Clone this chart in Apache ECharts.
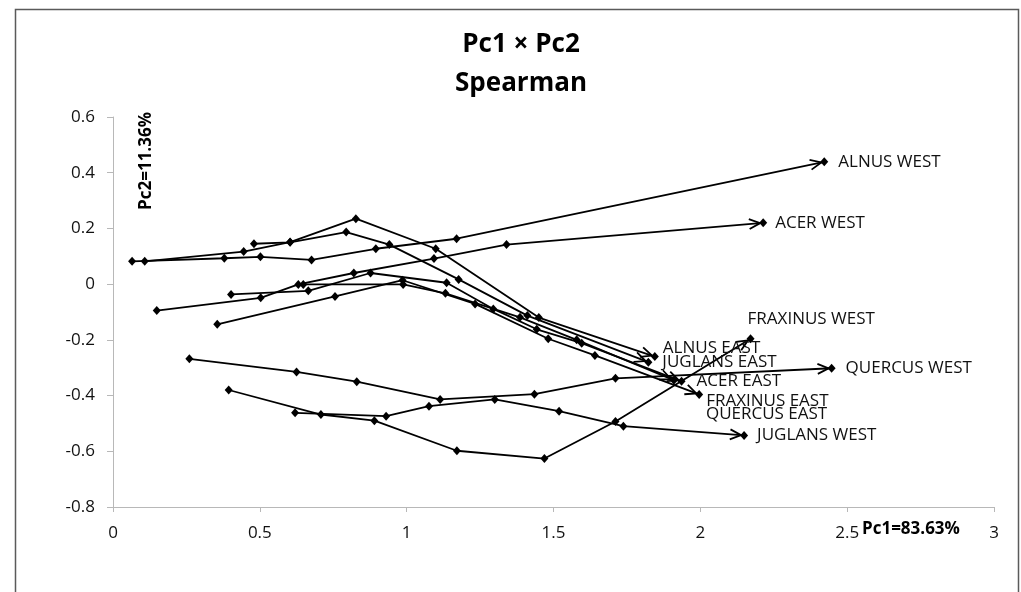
<!DOCTYPE html>
<html>
<head>
<meta charset="utf-8">
<script src="https://cdn.jsdelivr.net/npm/echarts@6/dist/echarts.min.js"></script>
<style>
  html, body { margin: 0; padding: 0; background: #fff; }
  #chart { width: 1021px; height: 592px; }
</style>
</head>
<body>
<div id="chart"></div>
<script>
// Trajectories in the Pc1 × Pc2 plane (Spearman), one per taxon and site.
const alnusWest    = [[0.065, 0.082], [0.379, 0.093], [0.502, 0.098], [0.676, 0.087], [0.895, 0.127], [1.17, 0.163], [2.422, 0.439]];
const acerWest     = [[0.149, -0.095], [0.503, -0.049], [0.631, -0.001], [0.82, 0.04], [1.093, 0.092], [1.34, 0.142], [2.214, 0.22]];
const fraxinusWest = [[0.394, -0.38], [0.708, -0.468], [0.89, -0.49], [1.171, -0.598], [1.469, -0.626], [1.711, -0.493], [2.171, -0.196]];
const quercusWest  = [[0.26, -0.268], [0.625, -0.315], [0.83, -0.35], [1.114, -0.414], [1.435, -0.395], [1.711, -0.338], [2.447, -0.302]];
const juglansWest  = [[0.62, -0.462], [0.93, -0.474], [1.076, -0.438], [1.3, -0.414], [1.519, -0.456], [1.738, -0.51], [2.149, -0.543]];
const alnusEast    = [[0.108, 0.082], [0.445, 0.117], [0.603, 0.151], [0.827, 0.235], [1.099, 0.127], [1.45, -0.12], [1.845, -0.26]];
const juglansEast  = [[0.48, 0.145], [0.603, 0.15], [0.794, 0.187], [0.941, 0.142], [1.177, 0.017], [1.411, -0.113], [1.823, -0.28]];
const acerEast     = [[0.402, -0.037], [0.665, -0.024], [0.877, 0.04], [1.136, 0.005], [1.295, -0.089], [1.443, -0.162], [1.596, -0.212], [1.936, -0.349]];
const fraxinusEast = [[0.355, -0.144], [0.756, -0.044], [0.986, 0.014], [1.233, -0.071], [1.482, -0.196], [1.641, -0.256], [1.996, -0.396]];
const quercusEast  = [[0.648, -0.001], [0.988, -0.001], [1.132, -0.033], [1.386, -0.119], [1.579, -0.2], [1.91, -0.345]];

const seriesNames = ['ALNUS WEST', 'ACER WEST', 'FRAXINUS WEST', 'QUERCUS WEST', 'JUGLANS WEST',
                     'ALNUS EAST', 'JUGLANS EAST', 'ACER EAST', 'FRAXINUS EAST', 'QUERCUS EAST'];
const seriesData  = [alnusWest, acerWest, fraxinusWest, quercusWest, juglansWest,
                     alnusEast, juglansEast, acerEast, fraxinusEast, quercusEast];

// Axis ranges and titles
const xRange = [0, 3, 0.5];
const yRange = [-0.8, 0.6, 0.2];
const chartTitle = 'Pc1 × Pc2\nSpearman';
const xTitle = 'Pc1=83.63%';
const yTitle = 'Pc2=11.36%';

// Placement of each end label relative to its end point
const labelOffsets = {
  'ALNUS WEST': [14, 0], 'ACER WEST': [12, 0], 'FRAXINUS WEST': [-3, -20],
  'QUERCUS WEST': [14, 0], 'JUGLANS WEST': [13, 0], 'ALNUS EAST': [8, -8],
  'JUGLANS EAST': [14, 0], 'ACER EAST': [15, 0], 'FRAXINUS EAST': [7, 7],
  'QUERCUS EAST': [32, 34]
};

const FONT = '"Open Sans", "Noto Sans", sans-serif';
const chart = echarts.init(document.getElementById('chart'), null, { renderer: 'canvas' });

const lineSeries = seriesNames.map((name, i) => ({
  name: name,
  type: 'line',
  data: seriesData[i],
  symbol: 'diamond',
  symbolSize: [8, 9],
  showAllSymbol: true,
  itemStyle: { color: '#000' },
  lineStyle: { color: '#000', width: 1.8 },
  endLabel: {
    show: true,
    formatter: '{a}',
    distance: 0,
    offset: labelOffsets[name],
    align: 'left',
    verticalAlign: 'middle',
    color: '#111',
    fontSize: 17,
    fontFamily: FONT
  },
  z: 3
}));

// Open arrowheads at the end of each trajectory, oriented along the last segment
const arrowData = seriesData.map(d => {
  const a = d[d.length - 2], b = d[d.length - 1];
  return [a[0], a[1], b[0], b[1]];
});

function renderArrow(params, api) {
  const a = api.coord([api.value(0), api.value(1)]);
  const b = api.coord([api.value(2), api.value(3)]);
  const ang = Math.atan2(b[1] - a[1], b[0] - a[0]);
  const c = Math.cos(ang), s = Math.sin(ang);
  const back = 3, len = 11, half = 5;
  const tx = b[0] - back * c, ty = b[1] - back * s;
  const bx = tx - len * c, by = ty - len * s;
  const nx = -s * half, ny = c * half;
  return {
    type: 'polyline',
    shape: { points: [[bx + nx, by + ny], [tx, ty], [bx - nx, by - ny]] },
    style: { stroke: '#000', lineWidth: 1.8, fill: null }
  };
}

const axisGray = '#b8b8b8';

chart.setOption({
  animation: false,
  backgroundColor: '#fff',
  title: {
    text: chartTitle,
    left: 516,
    top: 20,
    textAlign: 'center',
    textStyle: { fontSize: 26, fontWeight: 'bold', lineHeight: 39, color: '#000', fontFamily: FONT }
  },
  grid: { left: 113, right: 27, top: 117, bottom: 85, containLabel: false },
  xAxis: {
    type: 'value',
    min: xRange[0], max: xRange[1], interval: xRange[2],
    splitLine: { show: false },
    axisLine: { show: true, onZero: false, lineStyle: { color: axisGray, width: 1 } },
    axisTick: { show: true, inside: false, length: 5, lineStyle: { color: axisGray } },
    axisLabel: { margin: 18, fontSize: 17, color: '#111', fontFamily: FONT }
  },
  yAxis: {
    type: 'value',
    min: yRange[0], max: yRange[1], interval: yRange[2],
    splitLine: { show: false },
    axisLine: { show: true, onZero: false, lineStyle: { color: axisGray, width: 1 } },
    axisTick: { show: true, inside: false, length: 6, lineStyle: { color: axisGray } },
    axisLabel: { margin: 18, fontSize: 17, color: '#111', fontFamily: FONT }
  },
  graphic: [
    {
      type: 'rect', left: 13, top: 7, silent: true,
      shape: { width: 1003, height: 600 },
      style: { fill: null, stroke: '#5a5a5a', lineWidth: 1.5 }
    },
    {
      type: 'text', x: 146, y: 161, rotation: Math.PI / 2,
      style: { text: yTitle, fontSize: 17, fontWeight: 'bold', fill: '#000', fontFamily: FONT,
               align: 'center', verticalAlign: 'middle' }
    },
    {
      type: 'text', x: 862, y: 529,
      style: { text: xTitle, fontSize: 17, fontWeight: 'bold', fill: '#000', fontFamily: FONT,
               align: 'left', verticalAlign: 'middle' }
    }
  ],
  series: lineSeries.concat([{
    type: 'custom',
    renderItem: renderArrow,
    dimensions: ['x0', 'y0', 'x1', 'y1'],
    encode: { x: [0, 2], y: [1, 3] },
    data: arrowData,
    silent: true,
    z: 2
  }])
});
</script>
</body>
</html>
